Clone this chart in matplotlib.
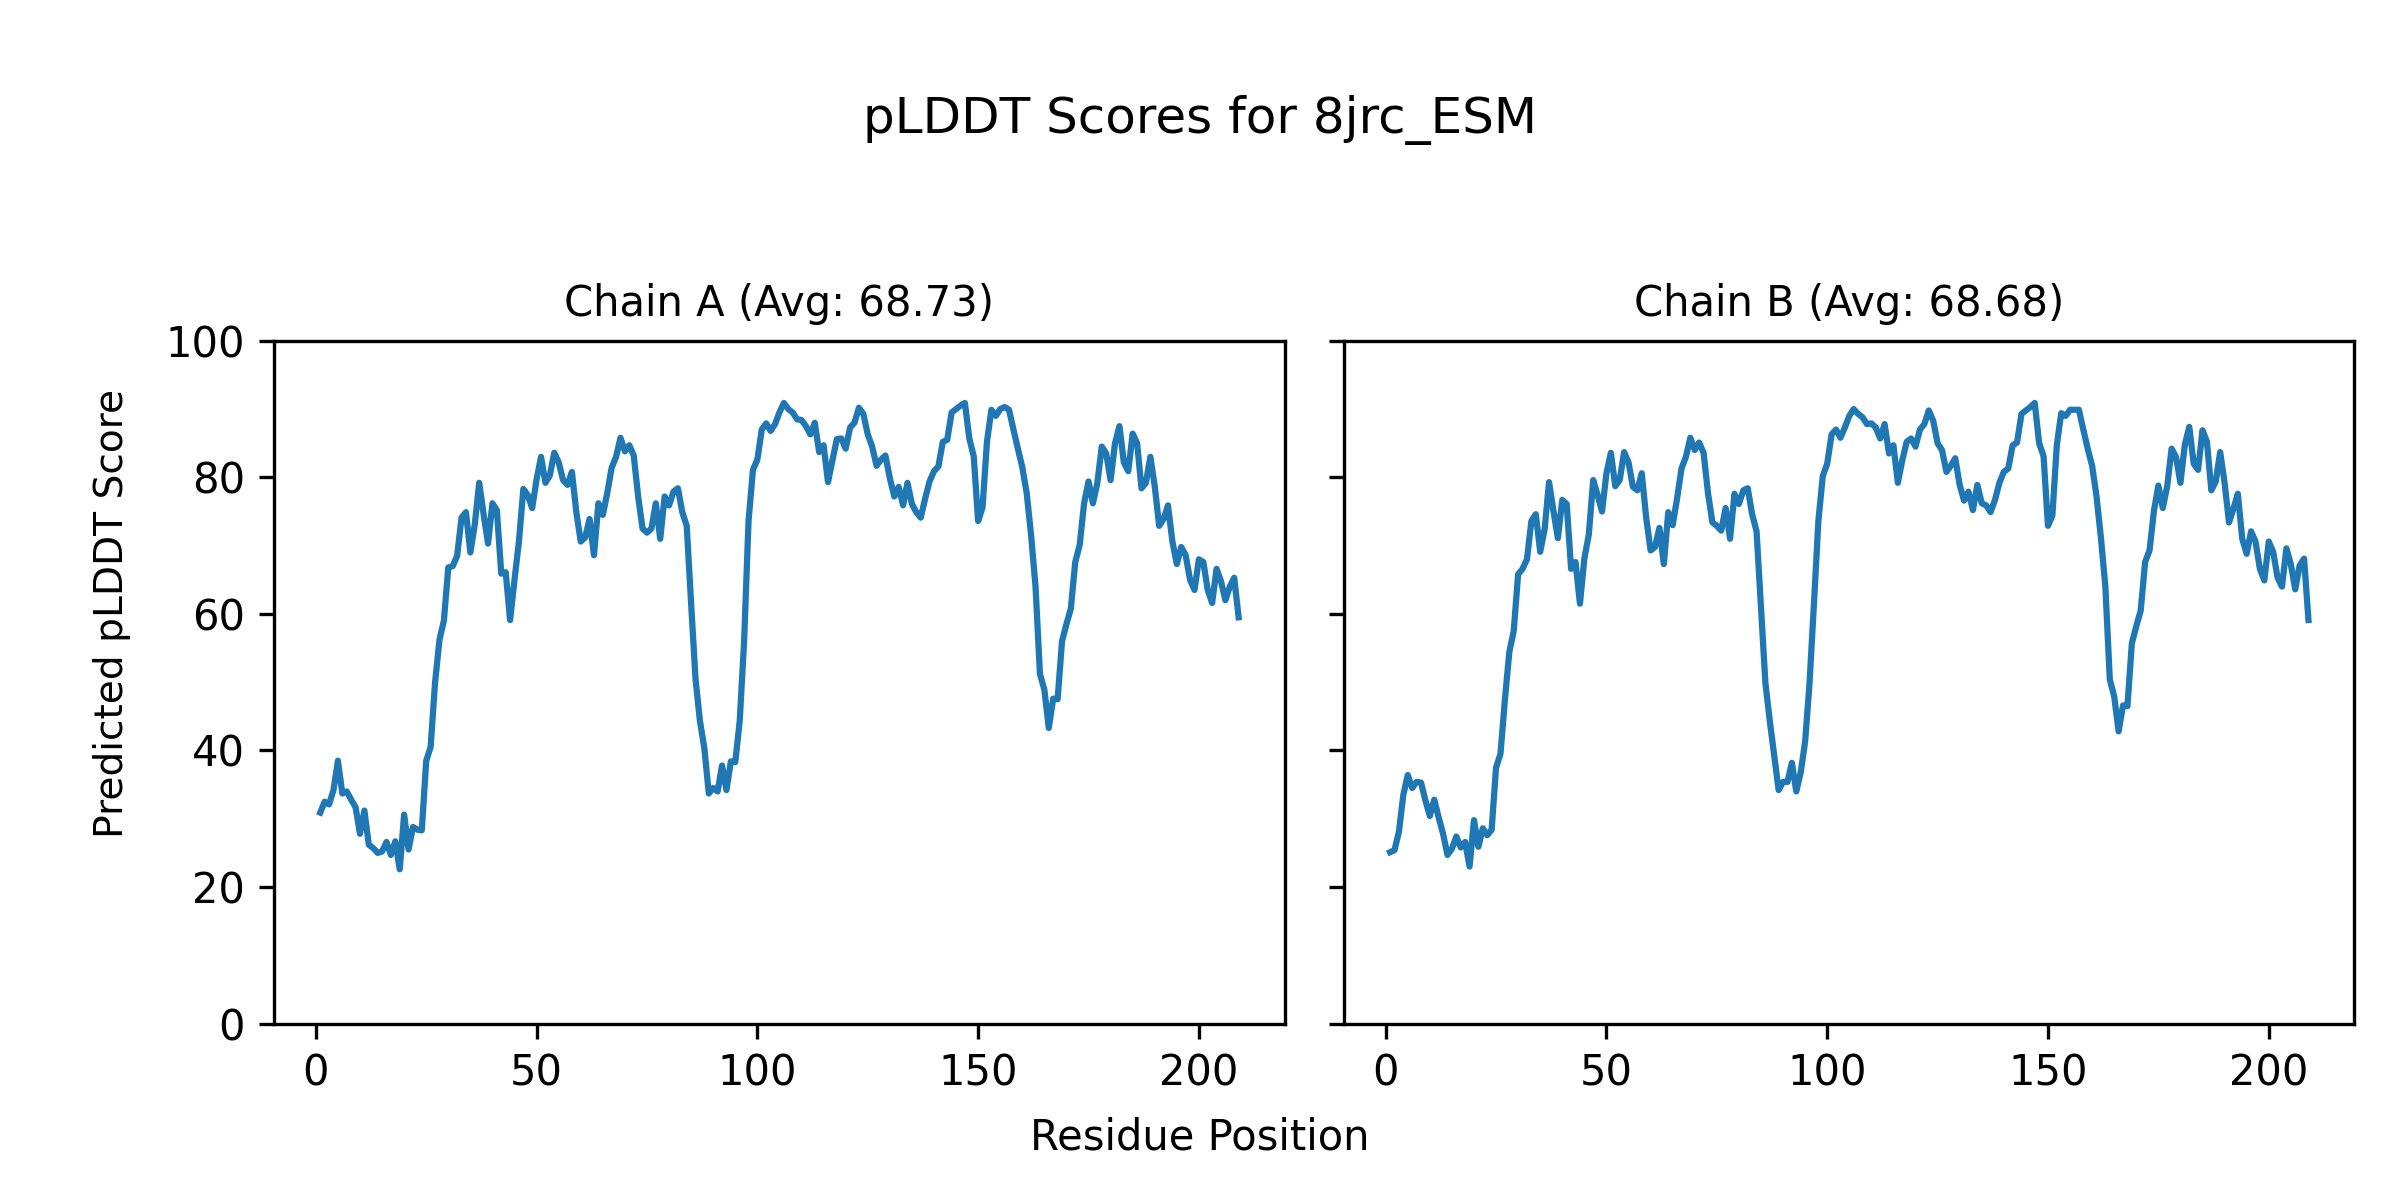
import matplotlib
matplotlib.use("Agg")
import matplotlib.pyplot as plt
import numpy as np

# pLDDT per residue (residues 1..209)
chain_a_plddt = [
    30.9, 32.5, 32.1, 34.2, 38.5, 33.7, 34.0, 32.8, 31.7, 27.8,
    31.2, 26.2, 25.7, 25.0, 25.2, 26.6, 24.7, 26.7, 22.6, 30.6,
    25.5, 28.8, 28.4, 28.3, 38.5, 40.5, 49.9, 56.2, 59.0, 66.8,
    67.0, 68.5, 74.1, 74.9, 69.0, 73.1, 79.2, 74.6, 70.3, 76.2,
    75.2, 65.9, 66.1, 59.1, 65.0, 70.6, 78.3, 77.4, 75.5, 79.7,
    83.0, 79.2, 80.3, 83.6, 82.2, 79.6, 78.9, 80.8, 74.9, 70.6,
    71.2, 73.9, 68.6, 76.2, 74.5, 77.7, 81.4, 83.0, 85.8, 83.8,
    84.7, 83.2, 77.2, 72.5, 71.9, 72.5, 76.2, 71.0, 77.2, 75.9,
    77.9, 78.4, 74.9, 72.9, 61.5, 50.4, 44.3, 40.3, 33.7, 34.5,
    34.0, 37.8, 34.2, 38.4, 38.3, 44.3, 56.0, 73.6, 81.1, 82.6,
    87.0, 87.9, 86.8, 87.8, 89.5, 90.9, 90.0, 89.5, 88.5, 88.4,
    87.5, 86.3, 88.0, 83.7, 84.7, 79.3, 82.5, 85.6, 85.7, 84.2,
    87.3, 88.0, 90.2, 89.3, 86.3, 84.5, 81.7, 82.6, 83.2, 79.9,
    77.2, 78.6, 75.9, 79.2, 76.1, 74.9, 74.1, 76.9, 79.4, 80.9,
    81.6, 85.2, 85.5, 89.5, 90.0, 90.5, 90.9, 85.7, 83.1, 73.6,
    75.6, 85.2, 89.9, 89.0, 90.0, 90.3, 89.9, 87.0, 84.2, 81.5,
    77.7, 71.5, 64.0, 51.2, 48.9, 43.3, 47.6, 47.5, 56.0, 58.5,
    60.8, 67.6, 70.1, 76.2, 79.4, 76.2, 79.2, 84.5, 83.5, 79.6,
    85.0, 87.5, 82.2, 80.9, 86.4, 85.0, 78.4, 79.2, 83.0, 78.7,
    72.9, 73.9, 75.9, 70.6, 67.3, 69.8, 68.6, 65.0, 63.5, 68.0,
    67.6, 63.5, 61.6, 66.6, 64.8, 62.0, 64.0, 65.3, 59.5,
]

chain_b_plddt = [
    25.1, 25.4, 28.1, 33.5, 36.4, 34.5, 35.4, 35.3, 32.7, 30.4,
    32.8, 30.2, 27.8, 24.7, 25.6, 27.4, 25.8, 26.6, 23.0, 29.8,
    25.9, 28.6, 27.6, 28.4, 37.5, 39.5, 47.4, 54.4, 57.5, 65.8,
    66.6, 68.0, 73.6, 74.6, 69.1, 72.4, 79.3, 75.1, 71.1, 76.7,
    76.1, 66.6, 67.6, 61.5, 68.1, 71.6, 79.6, 77.4, 75.0, 80.6,
    83.6, 78.7, 79.6, 83.7, 82.2, 78.6, 78.1, 80.6, 74.1, 69.3,
    69.8, 72.6, 67.3, 74.9, 73.0, 76.9, 81.3, 83.0, 85.8, 84.0,
    85.1, 83.6, 77.7, 73.4, 72.9, 72.2, 75.5, 71.0, 77.6, 76.1,
    78.1, 78.4, 74.6, 72.1, 61.0, 49.9, 44.3, 39.3, 34.2, 35.4,
    35.4, 38.2, 34.0, 36.8, 41.3, 49.9, 61.5, 73.6, 80.2, 82.0,
    86.3, 87.0, 85.8, 87.3, 89.0, 90.0, 89.3, 88.8, 87.8, 87.9,
    87.3, 85.7, 87.8, 83.5, 84.7, 79.2, 82.5, 85.2, 85.7, 84.5,
    87.0, 87.8, 89.8, 88.3, 85.0, 84.0, 80.8, 81.7, 82.8, 78.9,
    76.6, 77.9, 75.2, 78.9, 76.2, 75.9, 74.9, 76.7, 79.2, 80.8,
    81.3, 84.7, 85.1, 89.3, 89.8, 90.3, 90.9, 85.0, 83.1, 72.9,
    74.4, 84.7, 89.4, 89.0, 89.9, 89.9, 89.9, 87.0, 84.2, 81.7,
    77.2, 71.1, 64.0, 50.4, 47.9, 42.8, 46.6, 46.5, 55.7, 58.2,
    60.5, 67.6, 69.3, 75.1, 78.8, 75.5, 78.7, 84.2, 83.0, 79.2,
    84.8, 87.4, 82.0, 81.1, 86.9, 85.2, 78.1, 79.4, 83.7, 79.2,
    73.4, 75.4, 77.6, 71.0, 68.8, 72.1, 70.6, 66.6, 64.9, 70.6,
    69.1, 65.3, 64.0, 69.6, 67.3, 63.6, 67.1, 68.1, 59.1,
]

chain_names = ["A", "B"]
chain_avgs = [68.73, 68.68]  # averages as printed in the original titles
structure_name = "8jrc_ESM"


def plot_plddt(chains, names, avgs, title):
    """Plot pLDDT per residue, one panel per chain"""
    fig, axes = plt.subplots(1, len(chains), figsize=(8, 4), sharey=True)

    for ax, scores, name, avg in zip(axes, chains, names, avgs):
        residues = np.arange(1, len(scores) + 1)
        ax.plot(residues, scores, color="#1f77b4", linewidth=1.5)
        ax.set_title(f"Chain {name} (Avg: {avg:.2f})", fontsize=10)
        ax.set_ylim(0, 100)

    # shared axis labels for the whole figure
    fig.supylabel("Predicted pLDDT Score", fontsize=9.4, x=0.0466, y=0.489,
                  ha="center", va="center")
    fig.supxlabel("Residue Position", fontsize=10, y=0.0525, va="center")
    fig.suptitle(f"pLDDT Scores for {title}", fontsize=12, y=0.90, va="center")

    plt.subplots_adjust(left=0.1143, right=0.981, bottom=0.147, top=0.716, wspace=0.059)

    for scores, name in zip(chains, names):
        print(f"Chain {name}: mean of read values {np.mean(scores):.2f}")

    plt.savefig("out.png", dpi=300)
    plt.close()


if __name__ == "__main__":
    plot_plddt([chain_a_plddt, chain_b_plddt], chain_names, chain_avgs, structure_name)
